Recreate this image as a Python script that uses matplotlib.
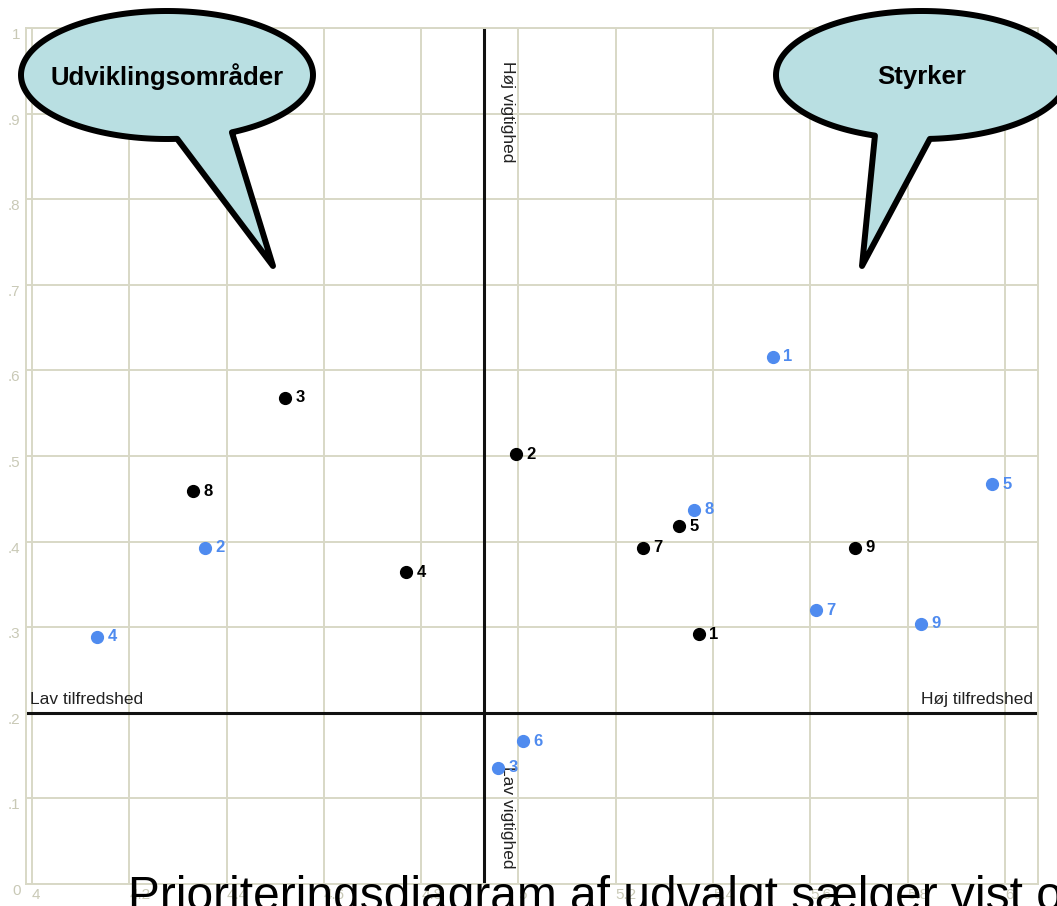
import numpy as np
import matplotlib.pyplot as plt
from matplotlib import font_manager
from matplotlib.patches import Polygon

# satisfaction (x) and importance (y) per question, two series
black_ids = ['1', '2', '3', '4', '5', '7', '8', '9']
black_x = [5.371, 4.995, 4.520, 4.769, 5.330, 5.256, 4.331, 5.692]
black_y = [0.292, 0.502, 0.568, 0.364, 0.418, 0.393, 0.459, 0.393]

blue_ids = ['1', '2', '3', '4', '5', '6', '7', '8', '9']
blue_x = [5.523, 4.356, 4.958, 4.134, 5.973, 5.009, 5.611, 5.361, 5.827]
blue_y = [0.616, 0.393, 0.136, 0.289, 0.467, 0.167, 0.320, 0.437, 0.304]

# quadrant split
x_mid = 4.929
y_mid = 0.2

x_ticks = [4.0, 4.2, 4.4, 4.6, 4.8, 5.0, 5.2, 5.4, 5.6, 5.8, 6.0]
x_labels = ['4', '4.2', '4.4', '4.6', '4.8', '5', '5.2', '5.4', '5.6', '5.8', '6']
y_ticks = [0, .1, .2, .3, .4, .5, .6, .7, .8, .9, 1]
y_labels = ['0', '.1', '.2', '.3', '.4', '.5', '.6', '.7', '.8', '.9', '1']

BLUE = '#4f8bef'
GRID = '#d8d8c6'
TICK = '#c9c9b6'
BUBBLE = '#b9dfe2'
FONT = ['Liberation Sans', 'DejaVu Sans']

W, H = 1057, 906
fig = plt.figure(figsize=(W / 100, H / 100), dpi=100)
fig.patch.set_facecolor('white')

ax = fig.add_axes([26 / W, (H - 884) / H, (1038 - 26) / W, (884 - 28) / H])
ax.set_xlim(3.9877, 6.068)
ax.set_ylim(0, 1)
ax.set_xticks(x_ticks)
ax.set_xticklabels(x_labels, family=FONT, fontsize=11, color=TICK, ha='left')
ax.set_yticks(y_ticks)
ax.set_yticklabels(y_labels, family=FONT, fontsize=11, color=TICK, va='top')
ax.tick_params(length=0)
ax.tick_params(axis='x', pad=3)
ax.tick_params(axis='y', pad=4)
ax.grid(True, color=GRID, lw=1.4)
ax.set_axisbelow(True)
for s in ax.spines.values():
    s.set_color(GRID)
    s.set_linewidth(1.4)

# quadrant axes
ax.axvline(x_mid, color='#111111', lw=2.2, zorder=2)
ax.axhline(y_mid, color='#111111', lw=2.2, zorder=2)

ax.annotate('Lav tilfredshed', xy=(0, y_mid), xycoords=('axes fraction', 'data'),
            xytext=(3, 6.5), textcoords='offset points', ha='left', va='baseline',
            family=FONT, fontsize=12.5, color='#222222')
ax.annotate('Høj tilfredshed', xy=(1, y_mid), xycoords=('axes fraction', 'data'),
            xytext=(-3.5, 6.5), textcoords='offset points', ha='right', va='baseline',
            family=FONT, fontsize=12.5, color='#222222')
ax.annotate('Høj vigtighed', xy=(x_mid, 1), xytext=(17, -24), textcoords='offset points',
            rotation=-90, ha='center', va='top', family=FONT, fontsize=12.5,
            color='#222222')
ax.annotate('Lav vigtighed', xy=(x_mid, 0), xytext=(17, 11), textcoords='offset points',
            rotation=-90, ha='center', va='bottom', family=FONT, fontsize=12.5,
            color='#222222')

# points with their question numbers
ax.plot(black_x, black_y, 'o', color='black', ms=8.5, zorder=3)
for lab, x, y in zip(black_ids, black_x, black_y):
    ax.annotate(lab, (x, y), xytext=(7.5, 0), textcoords='offset points',
                va='center', ha='left', family=FONT, fontsize=12, weight='bold',
                color='black', zorder=4)
ax.plot(blue_x, blue_y, 'o', color=BLUE, ms=8.5, zorder=3)
for lab, x, y in zip(blue_ids, blue_x, blue_y):
    ax.annotate(lab, (x, y), xytext=(7.5, 0), textcoords='offset points',
                va='center', ha='left', family=FONT, fontsize=12, weight='bold',
                color=BLUE, zorder=4)

# speech bubbles drawn in pixel space on top of everything
over = fig.add_axes([0, 0, 1, 1], zorder=5)
over.set_xlim(0, W)
over.set_ylim(H, 0)
over.axis('off')


def bubble(cx, cy, a, b, t_lo, t_hi, tip, text):
    t = np.radians(np.linspace(t_hi, t_lo + 360, 200))
    pts = np.column_stack([cx + a * np.cos(t), cy + b * np.sin(t)])
    pts = np.vstack([pts, tip])
    over.add_patch(Polygon(pts, closed=True, facecolor=BUBBLE, edgecolor='black',
                           lw=4.3, joinstyle='round'))
    over.text(cx, cy + 2, text, ha='center', va='center', family=FONT,
              fontsize=18.5, weight='bold', color='black')


bubble(167, 75, 146, 64, 63.6, 86.0, (273, 266), 'Udviklingsområder')
bubble(922, 75, 146, 64, 86.9, 108.8, (862, 266), 'Styrker')

# caption running off the bottom edge
names = {f.name for f in font_manager.fontManager.ttflist}
if 'Liberation Sans Narrow' in names:
    fig.text(128 / W, (H - 914) / H, 'Prioriteringsdiagram af udvalgt sælger vist over tid',
             family=['Liberation Sans Narrow', 'DejaVu Sans'], fontsize=42,
             ha='left', va='baseline', color='black', zorder=6)
else:
    fig.text(128 / W, (H - 910) / H, 'Prioriteringsdiagram af udvalgt sælger vist over tid',
             family=FONT, fontsize=34.5, ha='left', va='baseline', color='black', zorder=6)

fig.savefig('out.png', dpi=100)
